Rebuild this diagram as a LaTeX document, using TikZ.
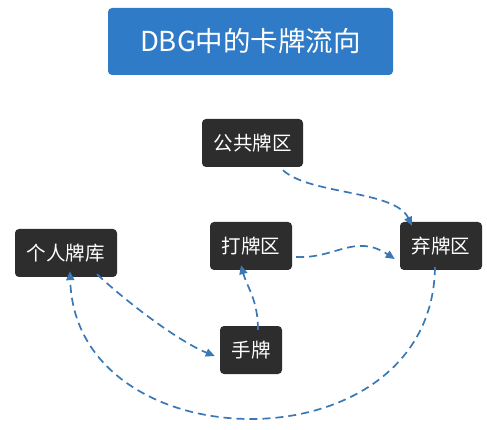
\documentclass[tikz,border=0pt]{standalone}
\usepackage{fontspec}
\setmainfont{Noto Sans CJK SC}
\usetikzlibrary{arrows.meta}
\definecolor{titleblue}{HTML}{2F7BC8}
\definecolor{boxdark}{HTML}{2D2D2D}
\definecolor{flowblue}{HTML}{3A78B5}
\tikzset{
  darkbox/.style={draw=none, fill=boxdark, rounded corners=4pt, text=white, font=\fontsize{19.5}{21}\selectfont, inner sep=0pt, minimum height=48pt},
  titlebox/.style={fill=titleblue, rounded corners=4pt, text=white, font=\fontsize{27.5}{30}\selectfont, inner sep=0pt, minimum width=285pt, minimum height=67pt},
  flow/.style={draw=flowblue, line width=1.7pt, dash pattern=on 8pt off 5pt, -{Triangle[length=9pt,width=8pt]}}
}
\begin{document}
\begin{tikzpicture}[x=1pt,y=-1pt]
\useasboundingbox (0,0) rectangle (487,430);
\node[titlebox] (title) at (250.5,41.5) {DBG中的卡牌流向};
\node[darkbox, minimum width=101pt] (gg) at (252.5,143) {公共牌区};
\node[darkbox, minimum width=102pt] (gr) at (66,253) {个人牌库};
\node[darkbox, minimum width=82pt] (dp) at (251,246) {打牌区};
\node[darkbox, minimum width=82pt] (qp) at (441,246) {弃牌区};
\node[darkbox, minimum width=62pt] (sp) at (251,350) {手牌};
\coordinate (a1s) at ([xshift=30.5pt,yshift=-3pt]gg.south);
\coordinate (a1e) at ([xshift=-29pt,yshift=-4pt]qp.north);
\draw[flow] (a1s) .. controls (310,195) and (395,190) .. (a1e);
\coordinate (a2s) at ([xshift=4pt,yshift=-11pt]dp.east);
\coordinate (a2e) at ([xshift=-5pt,yshift=-13pt]qp.west);
\draw[flow] (a2s) .. controls (335,259) and (355,233) .. (a2e);
\coordinate (a3s) at ([xshift=31pt,yshift=3pt]gr.south);
\coordinate (a3e) at ([xshift=-5pt,yshift=-6pt]sp.west);
\draw[flow] (a3s) .. controls (130,305) and (180,342) .. (a3e);
\coordinate (a4s) at ([xshift=7pt,yshift=-4pt]sp.north);
\coordinate (a4e) at ([xshift=-10pt,yshift=5pt]dp.south);
\draw[flow] (a4s) .. controls (258,300) and (247,287) .. (a4e);
\coordinate (a5s) at ([xshift=-6pt,yshift=3pt]qp.south);
\coordinate (a5e) at ([xshift=4pt,yshift=6pt]gr.south);
\draw[flow] (a5s) .. controls (432,470) and (75,465) .. (a5e);
\end{tikzpicture}
\end{document}
